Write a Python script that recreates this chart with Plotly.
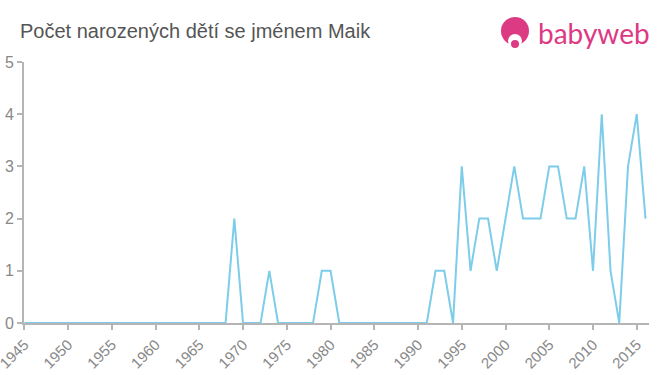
import plotly.graph_objects as go

years = list(range(1945, 2017))
counts_nonzero = {
    1969: 2, 1973: 1, 1979: 1, 1980: 1, 1992: 1, 1993: 1,
    1995: 3, 1996: 1, 1997: 2, 1998: 2, 1999: 1, 2000: 2, 2001: 3,
    2002: 2, 2003: 2, 2004: 2, 2005: 3, 2006: 3, 2007: 2, 2008: 2,
    2009: 3, 2010: 1, 2011: 4, 2012: 1, 2013: 0, 2014: 3, 2015: 4, 2016: 2,
}
counts = [counts_nonzero.get(y, 0) for y in years]
tick_years = list(range(1945, 2016, 5))
tick_labels = [str(y) for y in tick_years]

W, H = 660, 375
L, R, T, B = 24, 11, 62, 52
PW, PH = W - L - R, H - T - B

def px(x):
    return (x - L) / PW

def py(y):
    return (H - B - y) / PH

fig = go.Figure()
fig.add_trace(go.Scatter(
    x=years, y=counts, mode="lines",
    line=dict(color="#7dcdea", width=2),
    hoverinfo="skip", showlegend=False,
))

pink = "#dd3a84"
shapes = [
    dict(type="circle", xref="paper", yref="paper",
         x0=px(501), x1=px(529), y0=py(45), y1=py(17),
         fillcolor=pink, line=dict(width=0)),
    dict(type="circle", xref="paper", yref="paper",
         x0=px(508), x1=px(522), y0=py(48), y1=py(34),
         fillcolor="white", line=dict(width=0)),
    dict(type="circle", xref="paper", yref="paper",
         x0=px(511), x1=px(519), y0=py(48), y1=py(40),
         fillcolor=pink, line=dict(width=0)),
]

fig.update_layout(
    width=W, height=H,
    margin=dict(l=L, r=R, t=T, b=B, autoexpand=False),
    paper_bgcolor="white", plot_bgcolor="white",
    font=dict(family="Liberation Sans, Arial, sans-serif", color="#888888"),
    xaxis=dict(
        range=[1944.96, 2016.4], tickmode="array", tickvals=tick_years, ticktext=tick_labels,
        tickangle=-45, ticks="outside", ticklen=5, tickcolor="#b5b5b5", tickwidth=2,
        showline=True, linecolor="#b5b5b5", linewidth=2, showgrid=False, zeroline=False,
        tickfont=dict(size=15, color="#888888"), fixedrange=True, automargin=False,
        ticklabeloverflow="allow",
    ),
    yaxis=dict(
        range=[0, 5], tickvals=[0, 1, 2, 3, 4, 5], ticks="outside", ticklen=5,
        tickcolor="#b5b5b5", tickwidth=2,
        showline=True, linecolor="#b5b5b5", linewidth=2, showgrid=False, zeroline=False,
        tickfont=dict(size=16, color="#888888"), fixedrange=True, automargin=False,
        ticklabeloverflow="allow",
    ),
    shapes=shapes,
    annotations=[
        dict(text="Počet narozených dětí se jménem Maik", xref="paper", yref="paper",
             x=px(18), y=py(31), xanchor="left", yanchor="middle", showarrow=False,
             font=dict(size=20, color="#555555")),
        dict(text="babyweb", xref="paper", yref="paper",
             x=px(536), y=py(33), xanchor="left", yanchor="middle", showarrow=False,
             font=dict(size=28, color=pink, family="Lato, Liberation Sans, sans-serif")),
    ],
)

fig.write_html("out.html")
